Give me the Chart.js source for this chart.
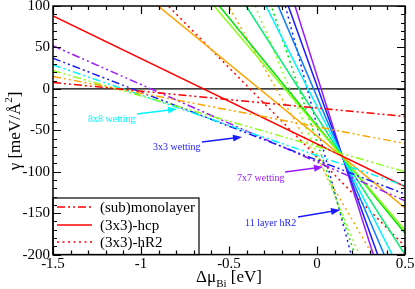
<!DOCTYPE html>
<html>
<head>
<meta charset="utf-8">
<script src="https://cdn.jsdelivr.net/npm/chart.js@4/dist/chart.umd.min.js"></script>
<style>
html,body{margin:0;padding:0;background:#fff;}
#c{display:block;}
</style>
</head>
<body>
<canvas id="c" width="415" height="289"></canvas>
<script>
// x positions where each straight line is sampled (left and right plot edges)
const xs = [-1.5, 0.5];

// (sub)monolayer — dash-dot-dot lines: gamma at x=-1.5 and x=0.5
const monoRed = [7.6, -33.4];
const monoOrange = [15, -66];
const monoYellowGreen = [22, -100];
const monoCyan = [29, -117];
const monoBlue = [37, -127];
const monoPurple = [52, -135];

// (3x3)-hcp — solid lines
const hcpRed = [88, -118];
const hcpOrange = [203.9, -143.7];
const hcpYellowGreen = [328.1, -170.5];
const hcpGreen = [345.7, -174.3];
const hcpSpringGreen = [464.3, -199.9];
const hcpCyan = [606.3, -230.5];
const hcpAzure = [738.2, -259];
const hcpBlue = [890, -291.8];
const hcpPurple = [1026.8, -321.3];

// (3x3)-hR2 — dotted lines
const hr2Red = [241.2, -190];
const hr2Orange = [464.8, -267.8];
const hr2YellowGreen = [681.8, -331.8];
const hr2Green = [883.2, -380];
const hr2Blue = [1158.6, -445.4];

// axis ticks
const xTicks = [-1.5, -1, -0.5, 0, 0.5];
const yTicks = [100, 50, 0, -50, -100, -150, -200];

// legend and annotation texts
const legendLabels = ["(sub)monolayer", "(3x3)-hcp", "(3x3)-hR2"];
const notes = ["8x8 wetting", "3x3 wetting", "7x7 wetting", "11 layer hR2"];

const C = {
  red: "#ff0000", orange: "#ffa500", yg: "#8cff1a", green: "#00e600",
  spring: "#00f070", cyan: "#00f5ff", azure: "#0a7cff", blue: "#1a1aff", purple: "#9a1aff"
};
const DASHDOT = [8, 3, 2, 3, 2, 3];
const DOT = [2, 3.5];

function ser(vals, color, dash) {
  return {
    data: xs.map((x, i) => ({x: x, y: vals[i]})),
    borderColor: color, borderWidth: 1.5, borderDash: dash || [],
    pointRadius: 0, fill: false, tension: 0
  };
}

const datasets = [
  ser(monoRed, C.red, DASHDOT), ser(monoOrange, C.orange, DASHDOT), ser(monoYellowGreen, C.yg, DASHDOT),
  ser(monoCyan, C.cyan, DASHDOT), ser(monoBlue, C.blue, DASHDOT), ser(monoPurple, C.purple, DASHDOT),
  ser(hcpRed, C.red), ser(hcpOrange, C.orange), ser(hcpYellowGreen, C.yg), ser(hcpGreen, C.green),
  ser(hcpSpringGreen, C.spring), ser(hcpCyan, C.cyan), ser(hcpAzure, C.azure), ser(hcpBlue, C.blue),
  ser(hcpPurple, C.purple),
  ser(hr2Red, C.red, DOT), ser(hr2Orange, C.orange, DOT), ser(hr2YellowGreen, C.yg, DOT),
  ser(hr2Green, C.green, DOT), ser(hr2Blue, C.blue, DOT)
];

const SERIF = "'Liberation Serif','Times New Roman',serif";

function arrow(ctx, x1, y1, x2, y2, color) {
  ctx.save();
  ctx.strokeStyle = color; ctx.fillStyle = color; ctx.lineWidth = 1.5;
  const a = Math.atan2(y2 - y1, x2 - x1);
  const L = 9, W = 3.5;
  ctx.beginPath(); ctx.moveTo(x1, y1);
  ctx.lineTo(x2 - (L - 1) * Math.cos(a), y2 - (L - 1) * Math.sin(a)); ctx.stroke();
  ctx.beginPath();
  ctx.moveTo(x2, y2);
  ctx.lineTo(x2 - L * Math.cos(a) + W * Math.sin(a), y2 - L * Math.sin(a) - W * Math.cos(a));
  ctx.lineTo(x2 - L * Math.cos(a) - W * Math.sin(a), y2 - L * Math.sin(a) + W * Math.cos(a));
  ctx.closePath(); ctx.fill();
  ctx.restore();
}

const decor = {
  id: "decor",
  beforeDatasetsDraw(chart) {
    const {ctx, chartArea: a, scales: {x, y}} = chart;
    ctx.save();
    ctx.strokeStyle = "#000"; ctx.lineWidth = 1.2;
    const y0 = y.getPixelForValue(0);
    ctx.beginPath(); ctx.moveTo(a.left, y0); ctx.lineTo(a.right, y0); ctx.stroke();
    ctx.restore();
  },
  afterDatasetsDraw(chart) {
    const {ctx, chartArea: a, scales: {x, y}} = chart;
    ctx.save();
    // annotations
    ctx.font = "10px " + SERIF; ctx.textBaseline = "middle"; ctx.textAlign = "left";
    ctx.fillStyle = C.cyan; ctx.fillText(notes[0], 88, 119);
    arrow(ctx, 137, 114, 177, 109, C.cyan);
    ctx.fillStyle = C.blue; ctx.fillText(notes[1], 153, 147);
    arrow(ctx, 202, 142, 242, 137, C.blue);
    ctx.fillStyle = C.purple; ctx.fillText(notes[2], 237, 178);
    arrow(ctx, 285, 172, 323, 167, C.purple);
    ctx.fillStyle = C.blue; ctx.fillText(notes[3], 245, 223);
    arrow(ctx, 298, 217, 340, 210, C.blue);

    // legend box
    const lx0 = a.left, ly0 = 198, lx1 = 199, ly1 = a.bottom;
    ctx.fillStyle = "#fff"; ctx.fillRect(lx0, ly0, lx1 - lx0, ly1 - ly0);
    ctx.strokeStyle = "#000"; ctx.lineWidth = 1.2;
    ctx.strokeRect(lx0, ly0, lx1 - lx0, ly1 - ly0);
    const dashes = [DASHDOT, [], DOT];
    const rows = [207, 225, 242];
    ctx.font = "15px " + SERIF; ctx.textBaseline = "middle";
    for (let i = 0; i < 3; i++) {
      ctx.strokeStyle = C.red; ctx.lineWidth = 1.5; ctx.setLineDash(dashes[i]);
      ctx.beginPath(); ctx.moveTo(57, rows[i]); ctx.lineTo(92, rows[i]); ctx.stroke();
      ctx.setLineDash([]);
      ctx.fillStyle = "#000"; ctx.fillText(legendLabels[i], 100, rows[i] + 1);
    }

    // frame
    ctx.strokeStyle = "#000"; ctx.lineWidth = 1.5;
    ctx.strokeRect(a.left, a.top, a.right - a.left, a.bottom - a.top);
    // ticks
    ctx.lineWidth = 1.2;
    ctx.beginPath();
    for (let v = -1.5; v <= 0.5001; v += 0.1) {
      const px = Math.round(x.getPixelForValue(v)) + 0.5;
      const major = Math.abs(v * 2 - Math.round(v * 2)) < 1e-6;
      const L = major ? 8 : 4;
      ctx.moveTo(px, a.bottom); ctx.lineTo(px, a.bottom - L);
      ctx.moveTo(px, a.top); ctx.lineTo(px, a.top + L);
    }
    for (let v = -200; v <= 100.001; v += 10) {
      const py = Math.round(y.getPixelForValue(v)) + 0.5;
      const major = Math.abs(v % 50) < 1e-6;
      const L = major ? 8 : 4;
      ctx.moveTo(a.left, py); ctx.lineTo(a.left + L, py);
      ctx.moveTo(a.right, py); ctx.lineTo(a.right - L, py);
    }
    ctx.stroke();

    // axis titles
    ctx.fillStyle = "#000";
    ctx.textBaseline = "alphabetic"; ctx.textAlign = "left";
    const t1 = "\u0394\u03bc", t3 = " [eV]";
    ctx.font = "17px " + SERIF; const w1 = ctx.measureText(t1).width;
    ctx.font = "11px " + SERIF; const w2 = ctx.measureText("Bi").width;
    ctx.font = "17px " + SERIF; const w3 = ctx.measureText(t3).width;
    let sx = 229 - (w1 + w2 + w3) / 2;
    ctx.fillText(t1, sx, 282);
    ctx.font = "11px " + SERIF; ctx.fillText("Bi", sx + w1, 287);
    ctx.font = "17px " + SERIF; ctx.fillText(t3, sx + w1 + w2, 282);

    ctx.translate(20, 131); ctx.rotate(-Math.PI / 2);
    const ya = "\u03b3 [meV/\u00c5", yb = "]";
    ctx.font = "17px " + SERIF; const wa = ctx.measureText(ya).width, wb = ctx.measureText(yb).width;
    ctx.font = "11px " + SERIF; const ws = ctx.measureText("2").width;
    let tx = -(wa + ws + wb) / 2;
    ctx.font = "17px " + SERIF; ctx.fillText(ya, tx, 0);
    ctx.font = "11px " + SERIF; ctx.fillText("2", tx + wa, -8);
    ctx.font = "17px " + SERIF; ctx.fillText(yb, tx + wa + ws, 0);
    ctx.restore();
  }
};

new Chart(document.getElementById("c"), {
  type: "line",
  data: {datasets: datasets},
  options: {
    responsive: false, animation: false, devicePixelRatio: 1,
    layout: {padding: {top: 6, right: 10, left: 0, bottom: 0}},
    plugins: {legend: {display: false}, tooltip: {enabled: false}},
    scales: {
      x: {
        type: "linear", min: -1.5, max: 0.5,
        afterFit: s => { s.height = 34.4; s.paddingLeft = 0; s.paddingRight = 0; },
        afterBuildTicks: s => { s.ticks = xTicks.map(v => ({value: v})); },
        grid: {display: false, drawTicks: false, tickLength: 0}, border: {display: false},
        ticks: {color: "#000", padding: 0, maxRotation: 0, autoSkip: false,
          font: {family: SERIF, size: 15}, callback: v => String(v)}
      },
      y: {
        type: "linear", min: -200, max: 100,
        afterFit: s => { s.width = 53; s.paddingTop = 0; s.paddingBottom = 0; },
        afterBuildTicks: s => { s.ticks = yTicks.map(v => ({value: v})); },
        grid: {display: false, drawTicks: false, tickLength: 0}, border: {display: false},
        ticks: {color: "#000", padding: 3, autoSkip: false,
          font: {family: SERIF, size: 15}, callback: v => String(v)}
      }
    }
  },
  plugins: [decor]
});
</script>
</body>
</html>
